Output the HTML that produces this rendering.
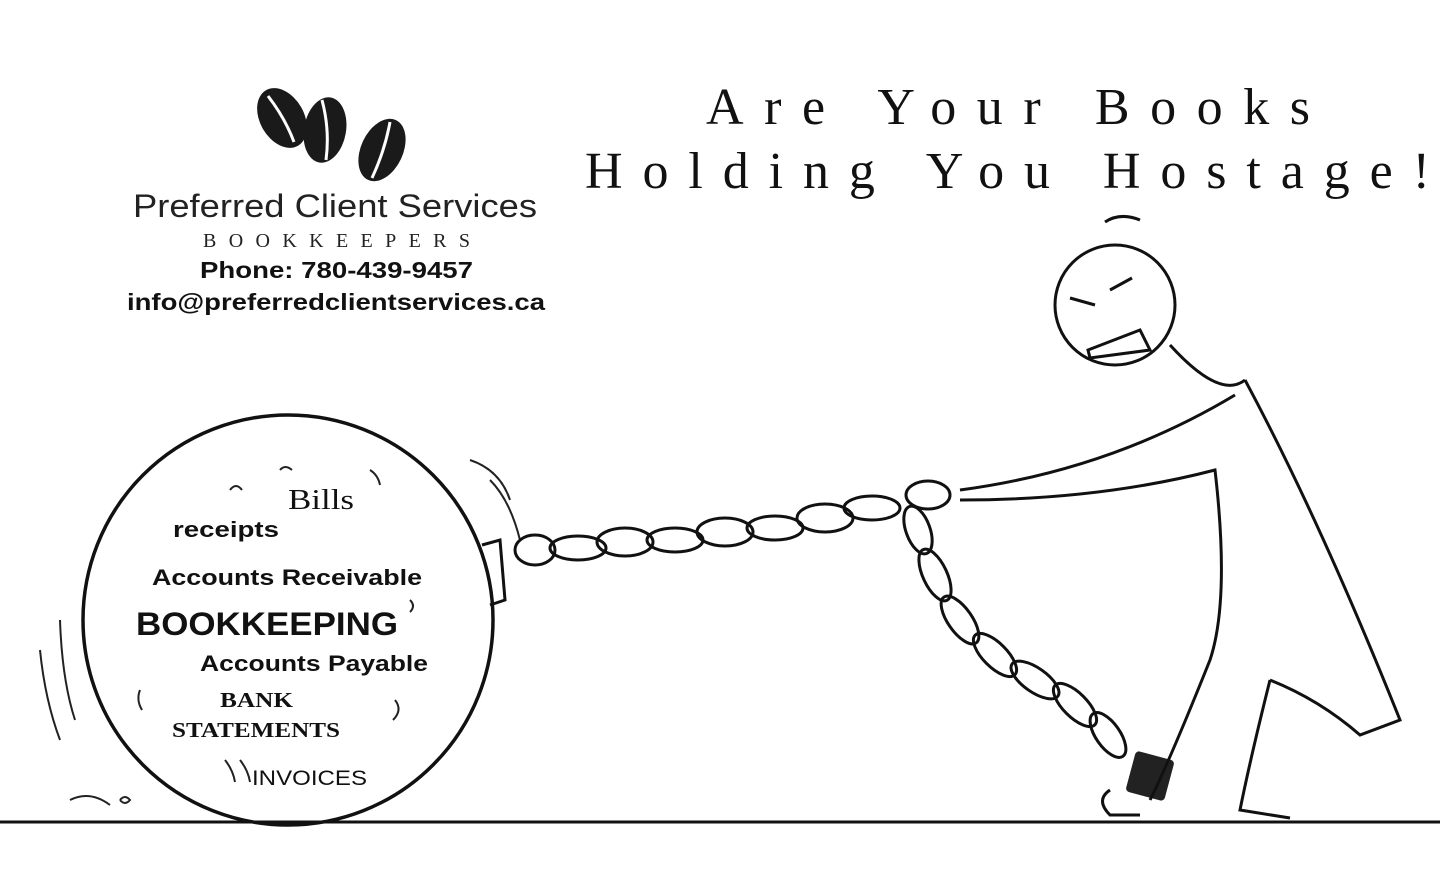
<!DOCTYPE html>
<html><head><meta charset="utf-8"><style>
html,body{margin:0;padding:0;background:#fff;}
svg{display:block;}
</style></head><body>
<svg width="1440" height="887" viewBox="0 0 1440 887" xmlns="http://www.w3.org/2000/svg">
<rect width="1440" height="887" fill="#fff"/>
<!-- title -->
<text x="706" y="124" textLength="604" lengthAdjust="spacing" font-family="Liberation Serif, serif" font-size="52" fill="#111">Are Your Books</text>
<text x="585" y="188" textLength="845" lengthAdjust="spacing" font-family="Liberation Serif, serif" font-size="52" fill="#111">Holding You Hostage!</text>
<!-- logo beans -->
<g fill="#1a1a1a">
<ellipse cx="282" cy="118" rx="22" ry="32" transform="rotate(-30 282 118)"/>
<ellipse cx="325" cy="130" rx="21" ry="33" transform="rotate(10 325 130)"/>
<ellipse cx="382" cy="150" rx="21" ry="33" transform="rotate(25 382 150)"/>
</g>
<g stroke="#fff" stroke-width="3" fill="none">
<path d="M268 96 Q285 118 294 142"/>
<path d="M322 100 Q330 130 326 160"/>
<path d="M390 122 Q385 150 372 178"/>
</g>
<text x="133" y="217" textLength="404" lengthAdjust="spacingAndGlyphs" font-family="Liberation Sans, sans-serif" font-size="32" fill="#222">Preferred Client Services</text>
<text x="203" y="247" textLength="267" lengthAdjust="spacing" font-family="Liberation Serif, serif" font-size="20" fill="#222">BOOKKEEPERS</text>
<text x="200" y="278" textLength="273" lengthAdjust="spacingAndGlyphs" font-family="Liberation Sans, sans-serif" font-weight="bold" font-size="23" fill="#111">Phone: 780-439-9457</text>
<text x="127" y="310" textLength="418" lengthAdjust="spacingAndGlyphs" font-family="Liberation Sans, sans-serif" font-weight="bold" font-size="23" fill="#111">info@preferredclientservices.ca</text>
<!-- ground -->
<line x1="0" y1="822" x2="1440" y2="822" stroke="#111" stroke-width="3"/>
<!-- ball -->
<circle cx="288" cy="620" r="205" fill="none" stroke="#111" stroke-width="3.5"/>
<g stroke="#222" stroke-width="2" fill="none">
<path d="M40 650 Q45 700 60 740"/><path d="M60 620 Q62 680 75 720"/>
<path d="M490 480 Q510 500 520 540"/><path d="M470 460 Q500 470 510 500"/>
<path d="M70 800 Q90 790 110 805"/><path d="M120 800 q5 -6 10 0 q-5 6 -10 0"/>
<path d="M230 490 q6 -8 12 0"/><path d="M370 470 q8 5 10 15"/><path d="M410 600 q6 6 0 12"/>
<path d="M395 700 q8 10 -2 20"/><path d="M225 760 q8 10 10 22"/><path d="M240 760 q8 10 10 22"/>
<path d="M140 690 q-4 10 2 20"/><path d="M280 470 q5 -6 12 0"/>
</g>
<text x="288" y="509" textLength="66" lengthAdjust="spacingAndGlyphs" font-family="Liberation Serif, serif" font-size="28" fill="#111">Bills</text>
<text x="173" y="537" textLength="106" lengthAdjust="spacingAndGlyphs" font-family="Liberation Sans, sans-serif" font-weight="bold" font-size="22" fill="#111">receipts</text>
<text x="152" y="585" textLength="270" lengthAdjust="spacingAndGlyphs" font-family="Liberation Sans, sans-serif" font-weight="bold" font-size="22" fill="#111">Accounts Receivable</text>
<text x="136" y="635" textLength="262" lengthAdjust="spacingAndGlyphs" font-family="Liberation Sans, sans-serif" font-weight="bold" font-size="32" fill="#111">BOOKKEEPING</text>
<text x="200" y="671" textLength="228" lengthAdjust="spacingAndGlyphs" font-family="Liberation Sans, sans-serif" font-weight="bold" font-size="22" fill="#111">Accounts Payable</text>
<text x="220" y="707" textLength="73" lengthAdjust="spacingAndGlyphs" font-family="Liberation Serif, serif" font-weight="bold" font-size="21" fill="#111">BANK</text>
<text x="172" y="737" textLength="168" lengthAdjust="spacingAndGlyphs" font-family="Liberation Serif, serif" font-weight="bold" font-size="21" fill="#111">STATEMENTS</text>
<text x="252" y="785" textLength="115" lengthAdjust="spacingAndGlyphs" font-family="Liberation Sans, sans-serif" font-size="21" fill="#111">INVOICES</text>
<!-- ball shackle -->
<path d="M482 545 L500 540 L505 600 L490 605" fill="none" stroke="#111" stroke-width="3"/>
<!-- chain -->
<g fill="none" stroke="#111" stroke-width="3">
<ellipse cx="535" cy="550" rx="20" ry="15"/>
<ellipse cx="578" cy="548" rx="28" ry="12"/>
<ellipse cx="625" cy="542" rx="28" ry="14"/>
<ellipse cx="675" cy="540" rx="28" ry="12"/>
<ellipse cx="725" cy="532" rx="28" ry="14"/>
<ellipse cx="775" cy="528" rx="28" ry="12"/>
<ellipse cx="825" cy="518" rx="28" ry="14"/>
<ellipse cx="872" cy="508" rx="28" ry="12"/>
<ellipse cx="928" cy="495" rx="22" ry="14"/>
<ellipse cx="918" cy="530" rx="12" ry="25" transform="rotate(-20 918 530)"/>
<ellipse cx="935" cy="575" rx="12" ry="28" transform="rotate(-25 935 575)"/>
<ellipse cx="960" cy="620" rx="12" ry="28" transform="rotate(-35 960 620)"/>
<ellipse cx="995" cy="655" rx="12" ry="28" transform="rotate(-45 995 655)"/>
<ellipse cx="1035" cy="680" rx="12" ry="28" transform="rotate(-55 1035 680)"/>
<ellipse cx="1075" cy="705" rx="12" ry="28" transform="rotate(-45 1075 705)"/>
<ellipse cx="1108" cy="735" rx="12" ry="26" transform="rotate(-35 1108 735)"/>
</g>
<rect x="1130" y="755" width="40" height="42" rx="4" fill="#222" transform="rotate(15 1150 776)"/>
<!-- figure -->
<g fill="none" stroke="#111" stroke-width="3">
<circle cx="1115" cy="305" r="60"/>
<path d="M1105 222 Q1120 212 1140 220"/>
<path d="M1070 298 L1095 305"/><path d="M1110 290 L1132 278"/>
<path d="M1088 350 L1140 330 L1150 350 L1090 358 Z"/>
<path d="M1170 345 Q1220 400 1245 380"/>
<path d="M1245 380 Q1320 520 1400 720 L1360 735 Q1320 700 1270 680"/>
<path d="M1235 395 Q1110 470 960 490"/>
<path d="M960 500 Q1100 500 1215 470 Q1230 600 1210 660 Q1170 760 1150 800"/>
<path d="M1270 680 Q1250 760 1240 810 L1290 818"/>
<path d="M1110 790 Q1095 800 1110 815 L1140 815"/>
</g>
</svg>
</body></html>
